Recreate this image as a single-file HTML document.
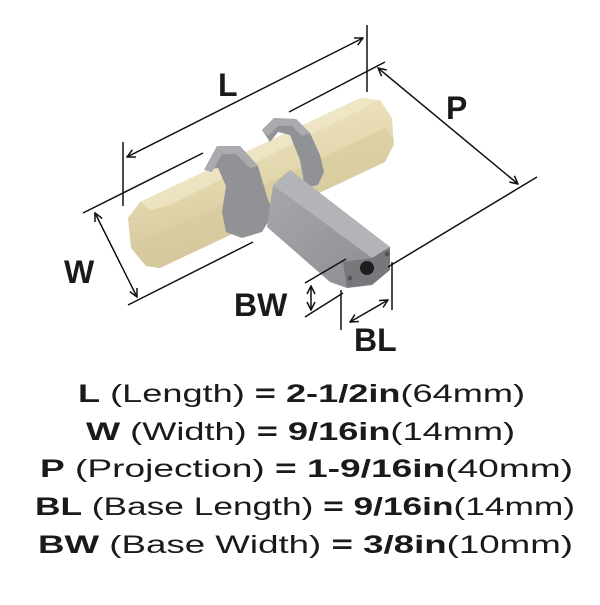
<!DOCTYPE html>
<html><head><meta charset="utf-8"><style>html,body{margin:0;padding:0;background:#fff}</style></head>
<body>
<svg width="600" height="600" viewBox="0 0 600 600" xmlns="http://www.w3.org/2000/svg" font-family="Liberation Sans, sans-serif">
<defs>
<linearGradient id="bg" x1="0" y1="0" x2="0.3" y2="1">
<stop offset="0" stop-color="#f0e6c6"/><stop offset="0.5" stop-color="#e4d9b0"/><stop offset="1" stop-color="#d2c49a"/></linearGradient>
<linearGradient id="gg" x1="0" y1="0" x2="1" y2="1">
<stop offset="0" stop-color="#a8aaae"/><stop offset="1" stop-color="#8a8c90"/></linearGradient>
<marker id="a" markerWidth="10" markerHeight="10" refX="9" refY="5" orient="auto-start-reverse" markerUnits="userSpaceOnUse"><path d="M1,1 L9,5 L1,9" fill="none" stroke="#111" stroke-width="1.5"/></marker>
</defs>
<!-- bar -->
<polygon points="128,218 140,202 360,98 380,100 392,118 394,145 385,162 160,268 146,266 131,248" fill="url(#bg)"/>
<polygon points="131,240 150,238 385,128 394,140 385,162 160,268 146,266" fill="#d6c99c" opacity="0.6"/>
<polygon points="140,202 360,98 380,100 170,205 150,210" fill="#f3ebcf" opacity="0.6"/>
<!-- collars -->
<polygon points="204,170 217,146 240,146 258,166 268,200 274,212 262,232 242,238 226,232 222,212 226,186 218,168" fill="#909296"/>
<polygon points="204,170 217,146 240,146 258,166 250,168 236,154 222,154 212,172" fill="#a9abaf"/>
<polygon points="262,130 274,118 296,119 310,133 320,155 324,172 318,185 305,188 300,160 290,135 278,132 270,142" fill="#909296"/>
<polygon points="262,130 274,118 296,119 310,133 302,136 292,126 278,126 268,136" fill="#a9abaf"/>
<!-- stem -->
<polygon points="267,227 273,185 290,170 390,247 347,288 330,282" fill="url(#gg)"/>
<polygon points="273,185 290,170 390,247 372,258" fill="#b2b4b8"/>
<polygon points="343,262 372,258 390,247 390,270 372,285 347,288" fill="#76787c"/>
<circle cx="367" cy="268" r="7" fill="#1e1e1e"/>
<circle cx="350" cy="278" r="2.5" fill="#555"/><circle cx="387" cy="254" r="2.5" fill="#555"/>
<!-- dimension lines -->
<g stroke="#111" stroke-width="1.5" fill="none">
<line x1="127" y1="157" x2="363" y2="38" marker-start="url(#a)" marker-end="url(#a)"/>
<line x1="123" y1="142" x2="123" y2="206"/>
<line x1="367" y1="25" x2="367" y2="92"/>
<line x1="289" y1="112" x2="385" y2="62"/>
<line x1="83" y1="213" x2="203" y2="153"/>
<line x1="378" y1="68" x2="518" y2="184" marker-start="url(#a)" marker-end="url(#a)"/>
<line x1="388" y1="267" x2="537" y2="177"/>
<line x1="95" y1="213" x2="137" y2="297" marker-start="url(#a)" marker-end="url(#a)"/>
<line x1="128" y1="305" x2="253" y2="242"/>
<line x1="305" y1="283" x2="346" y2="259"/>
<line x1="305" y1="317" x2="343" y2="293"/>
<line x1="311" y1="286" x2="311" y2="310" marker-start="url(#a)" marker-end="url(#a)"/>
<line x1="341" y1="290" x2="341" y2="330"/>
<line x1="392" y1="262" x2="392" y2="310"/>
<line x1="350" y1="322" x2="388" y2="300" marker-start="url(#a)" marker-end="url(#a)"/>
</g>
<g fill="#1a1a1a" font-weight="bold" font-size="32">
<text x="218" y="96">L</text>
<text x="446" y="119">P</text>
<text x="64" y="283">W</text>
<text x="234" y="316">BW</text>
<text x="354" y="351">BL</text>
</g>
<g fill="#1a1a1a" font-size="25">
<text x="78" y="402" textLength="447" lengthAdjust="spacingAndGlyphs"><tspan font-weight="bold">L</tspan> (Length) <tspan font-weight="bold">= 2-1/2in</tspan>(64mm)</text>
<text x="86" y="440" textLength="429" lengthAdjust="spacingAndGlyphs"><tspan font-weight="bold">W</tspan> (Width) <tspan font-weight="bold">= 9/16in</tspan>(14mm)</text>
<text x="40" y="477" textLength="533" lengthAdjust="spacingAndGlyphs"><tspan font-weight="bold">P</tspan> (Projection) <tspan font-weight="bold">= 1-9/16in</tspan>(40mm)</text>
<text x="35" y="515" textLength="540" lengthAdjust="spacingAndGlyphs"><tspan font-weight="bold">BL</tspan> (Base Length) <tspan font-weight="bold">= 9/16in</tspan>(14mm)</text>
<text x="38" y="553" textLength="535" lengthAdjust="spacingAndGlyphs"><tspan font-weight="bold">BW</tspan> (Base Width) <tspan font-weight="bold">= 3/8in</tspan>(10mm)</text>
</g>
</svg>
</body></html>
